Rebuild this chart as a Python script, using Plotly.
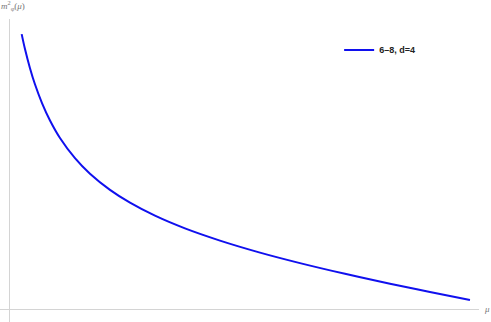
import plotly.graph_objects as go

mu = [0.254, 0.326, 0.435, 0.543, 0.696, 0.870, 1.087, 1.413, 1.739, 2.174, 2.609,
      3.152, 3.804, 4.565, 5.435, 6.304, 7.283, 8.261, 9.130, 10.0]
m2 = [9.960, 9.420, 8.725, 8.141, 7.460, 6.830, 6.196, 5.464, 4.899, 4.315, 3.851,
      3.380, 2.920, 2.478, 2.043, 1.663, 1.275, 0.917, 0.616, 0.326]
series_name = "6\u20138, d=4"

fig = go.Figure()
fig.add_trace(go.Scatter(x=mu, y=m2, mode="lines", name="<b>" + series_name + "</b>",
                         line=dict(color="#1010ee", width=2, shape="spline", smoothing=1.0)))

axis_common = dict(showgrid=False, showticklabels=False, showline=False, ticks="",
                   zeroline=True, zerolinecolor="#d4d4d4", zerolinewidth=1)
fig.update_layout(
    width=491, height=322,
    margin=dict(l=0, r=12, t=19, b=0),
    paper_bgcolor="white", plot_bgcolor="white",
    xaxis=dict(range=[-0.217, 10.196], **axis_common),
    yaxis=dict(range=[-0.471, 10.507], **axis_common),
    showlegend=True,
    legend=dict(x=0.708, y=0.898, xanchor="left", yanchor="middle",
                bgcolor="rgba(0,0,0,0)", itemwidth=30,
                font=dict(family="Liberation Sans, Arial", size=9, color="#222222")),
    font=dict(family="Liberation Sans, Arial"),
)

fig.add_annotation(xref="paper", yref="paper", x=0, y=1, xanchor="left", yanchor="bottom",
                   xshift=-1, yshift=5,
                   text="<i>m</i><sup>2</sup><sub>φ</sub>(<i>μ</i>)", showarrow=False,
                   font=dict(size=9, color="#777777", family="Liberation Serif, DejaVu Serif"))
fig.add_annotation(xref="paper", yref="y", x=1, y=0, xanchor="left", yanchor="middle",
                   xshift=3, text="<i>μ</i>", showarrow=False,
                   font=dict(size=9, color="#777777", family="Liberation Serif, DejaVu Serif"))

fig.write_html("out.html", config={"displayModeBar": False},
               post_script="document.body.style.margin='0';document.body.style.overflow='hidden';")
